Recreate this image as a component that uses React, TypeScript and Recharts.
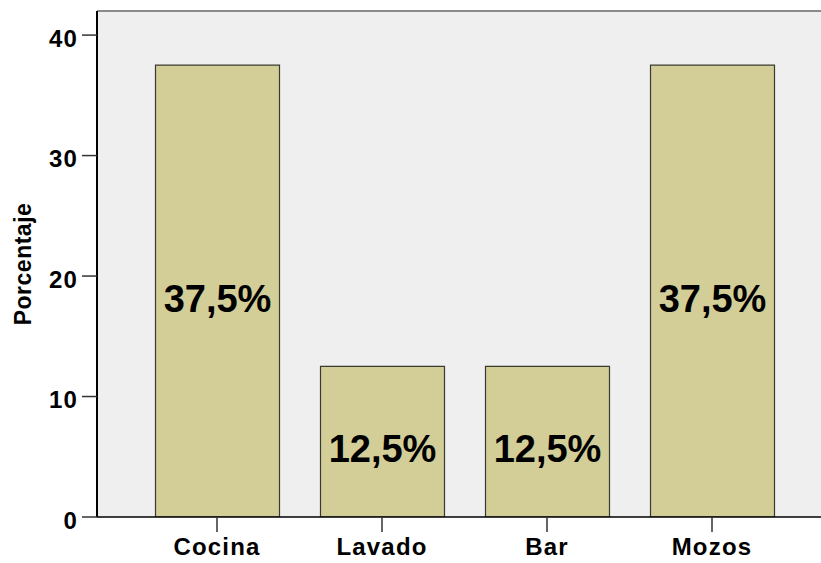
import {
  Bar,
  BarChart,
  CartesianGrid,
  LabelList,
  ReferenceLine,
  XAxis,
  YAxis,
} from "recharts";

const categorias = ["Cocina", "Lavado", "Bar", "Mozos"];
const porcentajes = [37.5, 12.5, 12.5, 37.5];
const ticksY = [0, 10, 20, 30, 40];

const data = categorias.map((c, i) => ({ nombre: c, porcentaje: porcentajes[i] }));

const FUENTE = "'Liberation Sans', Arial, sans-serif";

export default function App() {
  return (
    <div style={{ position: "absolute", left: 0, top: 0 }}>
      <BarChart
        width={821}
        height={563}
        data={data}
        margin={{ top: 11, right: 0, left: 0, bottom: 0 }}
      >
        <CartesianGrid
          fill="#efefef"
          stroke="none"
          horizontal={false}
          vertical={false}
        />
        <ReferenceLine y={42} stroke="#8a8a8a" strokeWidth={2} ifOverflow="visible" />
        <XAxis
          dataKey="nombre"
          height={46}
          padding={{ left: 37.5, right: 26.5 }}
          stroke="#000"
          strokeWidth={1.5}
          tickSize={15}
          tickMargin={6}
          tickLine={{ stroke: "#333", strokeWidth: 1.5 }}
          tick={{
            fill: "#000",
            fontFamily: FUENTE,
            fontWeight: "bold",
            fontSize: 24,
            letterSpacing: 1.2,
          }}
        />
        <YAxis
          width={97}
          domain={[0, 42]}
          ticks={ticksY}
          allowDataOverflow
          stroke="#000"
          strokeWidth={2}
          tickSize={15}
          tickMargin={4}
          tickLine={{ stroke: "#333", strokeWidth: 1.5 }}
          tick={{
            fill: "#000",
            fontFamily: FUENTE,
            fontWeight: "bold",
            fontSize: 24,
            letterSpacing: 1.2,
            dy: 3,
          }}
          label={{
            value: "Porcentaje",
            angle: -90,
            position: "center",
            dx: -26,
            style: {
              fill: "#000",
              fontFamily: FUENTE,
              fontWeight: "bold",
              fontSize: 23,
              letterSpacing: 0.5,
            },
          }}
        />
        <Bar
          dataKey="porcentaje"
          barSize={124}
          fill="#d3ce98"
          stroke="#3a3a30"
          strokeWidth={1.2}
          isAnimationActive={false}
        >
          <LabelList
            dataKey="porcentaje"
            position="center"
            dy={7}
            formatter={(v: number) => `${v.toFixed(1).replace(".", ",")}%`}
            style={{
              fill: "#000",
              fontFamily: FUENTE,
              fontWeight: "bold",
              fontSize: 38,
            }}
          />
        </Bar>
      </BarChart>
    </div>
  );
}
